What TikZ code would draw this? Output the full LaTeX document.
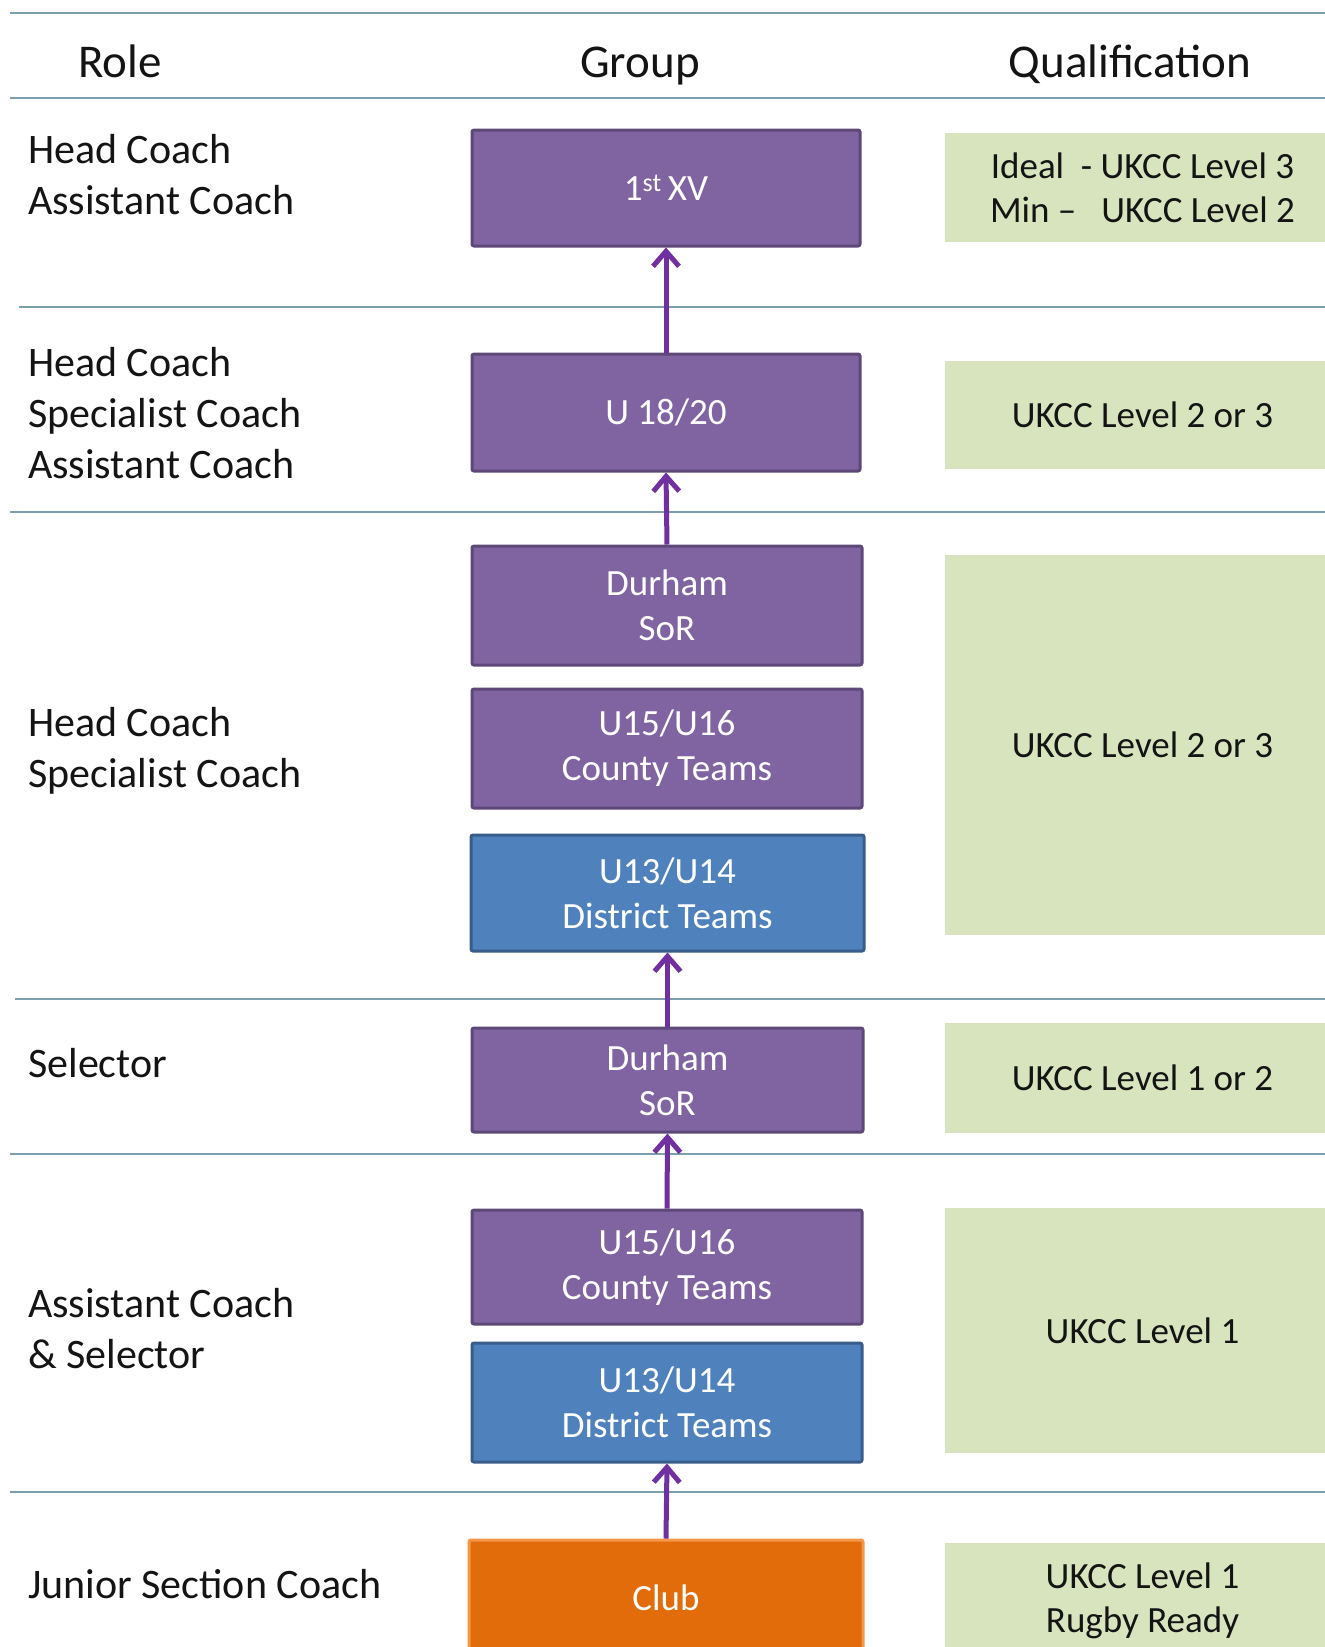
\documentclass[tikz,border=0pt]{standalone}
\usepackage{fontspec}
\setmainfont{Carlito}
\usetikzlibrary{arrows.meta}
\definecolor{purp}{RGB}{128,100,162}
\definecolor{purpd}{RGB}{93,72,120}
\definecolor{bluef}{RGB}{79,129,189}
\definecolor{blued}{RGB}{56,93,138}
\definecolor{orgf}{RGB}{227,108,10}
\definecolor{orgd}{RGB}{245,150,75}
\definecolor{grn}{RGB}{215,228,189}
\definecolor{rulec}{RGB}{125,160,175}
\definecolor{arr}{RGB}{112,48,160}
\definecolor{ink}{RGB}{20,20,20}
\begin{document}
\begin{tikzpicture}[x=1pt,y=-1pt,
 grp/.style={rectangle, rounded corners=2pt, line width=3pt, text=white, font=\fontsize{37}{45}\selectfont, align=center, minimum width=388pt, inner sep=0pt},
 pbox/.style={grp, fill=purp, draw=purpd},
 bbox/.style={grp, fill=bluef, draw=blued},
 obox/.style={grp, fill=orgf, draw=orgd},
 qbox/.style={rectangle, fill=grn, text=ink, font=\fontsize{37}{44}\selectfont, align=center, minimum width=395pt, inner sep=0pt},
 role/.style={anchor=west, align=left, text=ink, font=\fontsize{42}{51}\selectfont, inner sep=0pt},
 head/.style={anchor=base, text=ink, font=\fontsize{47}{56}\selectfont, inner sep=0pt},
 rl/.style={draw=rulec, line width=2pt},
 up/.style={draw=arr, line width=5pt, -{Straight Barb[length=15pt,width=26pt,line width=5pt]}}
]
\useasboundingbox (0,0) rectangle (1325,1647);
\clip (0,0) rectangle (1325,1647);
\fill[white] (0,0) rectangle (1325,1647);

% rules
\draw[rl] (10,12.6) -- (1325,12.6);
\draw[rl] (10,97.7) -- (1325,97.7);
\draw[rl] (19,306.8) -- (1325,306.8);
\draw[rl] (10,511.7) -- (1325,511.7);
\draw[rl] (15,999.3) -- (1325,999.3);
\draw[rl] (10,1153.8) -- (1325,1153.8);
\draw[rl] (10,1492) -- (1325,1492);

% headers
\node[head] (hrole) at (120,77) {Role};
\node[head] (hgroup) at (640,77) {Group};
\node[head] (hqual) at (1130,77) {Qualification};

% roles
\node[role] (r1) at (28,175) {Head Coach\\Assistant Coach};
\node[role] (r2) at (28,413) {Head Coach\\Specialist Coach\\Assistant Coach};
\node[role] (r3) at (28,751) {Head Coach\\Specialist Coach};
\node[role] (r4) at (28,1063) {Selector};
\node[role] (r5) at (28,1329) {Assistant Coach\\\& Selector};
\node[role] (r6) at (28,1584) {Junior Section Coach};

% groups
\node[pbox, minimum height=116pt] (xv) at (666,188) {1\textsuperscript{st}\,XV};
\node[pbox, minimum height=117pt] (u18) at (666,412.5) {U 18/20};
\node[pbox, minimum height=119pt, minimum width=390pt] (dur1) at (667,605.5) {Durham\\SoR};
\node[pbox, minimum height=119pt, minimum width=390pt] (cty1) at (667,748.5) {U15/U16\\County Teams};
\node[bbox, minimum height=116pt, minimum width=393pt] (dis1) at (667.5,893) {U13/U14\\District Teams};
\node[pbox, minimum height=104pt, minimum width=391pt] (dur2) at (667.5,1080) {Durham\\SoR};
\node[pbox, minimum height=114pt, minimum width=390pt] (cty2) at (667,1267) {U15/U16\\County Teams};
\node[bbox, minimum height=119pt, minimum width=390pt] (dis2) at (667,1402.5) {U13/U14\\District Teams};
\node[obox, minimum height=116pt, minimum width=394pt] (club) at (666,1598) {Club};

% qualifications
\node[qbox, minimum height=109pt] (q1) at (1142.5,187.5) {Ideal~~- UKCC Level 3\\Min –~~~UKCC Level 2};
\node[qbox, minimum height=108pt] (q2) at (1142.5,415) {UKCC Level 2 or 3};
\node[qbox, minimum height=380pt] (q3) at (1142.5,745) {UKCC Level 2 or 3};
\node[qbox, minimum height=110pt] (q4) at (1142.5,1078) {UKCC Level 1 or 2};
\node[qbox, minimum height=245pt] (q5) at (1142.5,1330.5) {UKCC Level 1};
\node[qbox, minimum height=117pt] (q6) at (1142.5,1601) {UKCC Level 1\\Rugby Ready};

% arrows
\draw[up] (u18.north) -- (xv.south);
\draw[up] (dur1.north) -- (u18.south);
\draw[up] (dur2.north) -- (dis1.south);
\draw[up] (cty2.north) -- (dur2.south);
\draw[up] (club.north) -- (dis2.south);
\end{tikzpicture}
\end{document}
